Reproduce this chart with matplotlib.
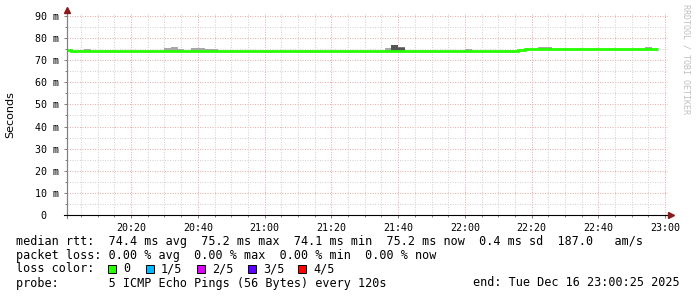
import matplotlib
matplotlib.use("Agg")
import matplotlib.pyplot as plt
import numpy as np
from matplotlib.patches import Rectangle
from matplotlib.lines import Line2D

W, H = 697, 297
nan = np.nan

# ---- data -------------------------------------------------------------
# time axis in minutes after 20:00 ; one sample every 2 minutes
sample_step_min = 2
median_ms = [
    74.8, 74.35, 74.35, 74.35, 74.35, 74.35, 74.35, 74.35, 74.35, 74.35,
    74.35, 74.35, 74.35, 74.35, 74.35, 74.35, 74.35, 74.35, 74.35, 74.35,
    74.35, 74.35, 74.35, 74.35, 74.35, 74.35, 74.35, 74.35, 74.35, 74.35,
    74.35, 74.35, 74.35, 74.35, 74.35, 74.1, 74.35, 74.35, 74.35, 74.35,
    74.35, 74.35, 74.35, 74.35, 74.35, 74.35, 74.35, 74.35, 74.35, 74.35,
    74.35, 74.35, 74.35, 74.35, 74.35, 74.35, 74.35, 74.1, 74.1, 74.35,
    74.35, 74.35, 74.35, 74.35, 74.35, 74.35, 74.35, 74.35, 74.7, 75.2,
    75.2, 75.2, 75.2, 75.2, 75.2, 75.2, 75.2, 75.2, 75.2, 75.2,
    75.2, 75.2, 75.2, 75.2, 75.2, 75.2, 75.2, 75.2, 75.2,
]
# smoke (spread of the individual pings) above the median
smoke_outer_bins = [3, 15, 16, 17, 19, 20, 21, 22, 48, 60, 71, 72, 87]
smoke_outer_top = [75.1, 75.5, 76.1, 75.1, 75.5, 75.5, 75.1, 75.1, 75.5, 75.1, 76.1, 76.1, 76.1]
smoke_inner_bins = [50]
smoke_inner_top = [76.1]
smoke_core_bins = [49, 50]
smoke_core_top = [76.9, 75.7]

x_range_min = (0.8, 180.85)
y_range_ms = (0, 90.9)
x_tick_min = [20, 40, 60, 80, 100, 120, 140, 160, 180]
x_tick_labels = ["20:20", "20:40", "21:00", "21:20", "21:40", "22:00", "22:20", "22:40", "23:00"]
y_tick_ms = [0, 10, 20, 30, 40, 50, 60, 70, 80, 90]
y_tick_labels = ["0  ", "10 m", "20 m", "30 m", "40 m", "50 m", "60 m", "70 m", "80 m", "90 m"]

legend_lines = [
    "median rtt:  74.4 ms avg  75.2 ms max  74.1 ms min  75.2 ms now  0.4 ms sd  187.0   am/s",
    "packet loss: 0.00 % avg  0.00 % max  0.00 % min  0.00 % now",
    "loss color:",
    "probe:       5 ICMP Echo Pings (56 Bytes) every 120s",
]
loss_labels = ["0", "1/5", "2/5", "3/5", "4/5"]
loss_colors = ["#26ff00", "#00b8ff", "#dd00ff", "#5e00ff", "#ff0000"]
end_text = "end: Tue Dec 16 23:00:25 2025"

# ---- figure -----------------------------------------------------------
def fx(px):
    return px / W

def fy(py):
    return 1 - py / H

fig = plt.figure(figsize=(W / 100, H / 100), dpi=100, facecolor="white")
left, right, top, bottom = 67, 668, 14, 215
ax = fig.add_axes([fx(left), fy(bottom), (right - left) / W, (bottom - top) / H])
ax.set_facecolor("white")
ax.set_xlim(*x_range_min)
ax.set_ylim(*y_range_ms)

mono = "DejaVu Sans Mono"

# grid
minor_c = "#d4d4d4"
major_c = "#e8b0b0"
dot = (0, (1, 1.4))
for v in np.arange(5, 91, 5):
    c = major_c if v % 10 == 0 else minor_c
    ax.axhline(v, color=c, lw=0.75, ls=dot, zorder=1)
for m in np.arange(5, 181, 5):
    c = major_c if m % 20 == 0 else minor_c
    ax.axvline(m, color=c, lw=0.75, ls=dot, zorder=1)

# smoke
med = np.array(median_ms)
def draw_smoke(bins, tops, color):
    b = np.array(bins)
    t = np.array(tops)
    ax.bar(b * sample_step_min, t - med[b], bottom=med[b], width=sample_step_min,
           align="edge", color=color, lw=0, zorder=2)

draw_smoke(smoke_outer_bins, smoke_outer_top, "#a8a8a8")
draw_smoke(smoke_inner_bins, smoke_inner_top, "#7a7a7a")
draw_smoke(smoke_core_bins, smoke_core_top, "#555555")

# median line
edges = np.arange(len(median_ms) + 1) * sample_step_min
ax.stairs(med, edges, baseline=None, color="#26ff00", lw=2.0, zorder=3)

# axes styling
for s in ["top", "right"]:
    ax.spines[s].set_visible(False)
ax.spines["left"].set_color("#808080")
ax.spines["bottom"].set_color("black")
ax.spines["left"].set_linewidth(0.8)
ax.spines["bottom"].set_linewidth(0.8)

ax.set_xticks(x_tick_min)
ax.set_xticklabels(x_tick_labels, fontfamily=mono, fontsize=7.2)
ax.set_xticks(np.arange(5, 181, 5), minor=True)
ax.set_yticks(y_tick_ms)
ax.set_yticklabels(y_tick_labels, fontfamily=mono, fontsize=7.2)
ax.set_yticks(np.arange(5, 91, 5), minor=True)
ax.tick_params(axis="both", which="major", length=2.5, width=0.7, color="#808080", pad=3.5)
ax.tick_params(axis="both", which="minor", length=1.5, width=0.7, color="#808080")
ax.tick_params(axis="x", which="major", pad=3)

ax.set_ylabel("Seconds", fontsize=8, family="DejaVu Sans", labelpad=14)

# axis extensions and arrows
fig.add_artist(Line2D([fx(left), fx(left)], [fy(bottom + 3), fy(10)], color="#808080", lw=0.8))
fig.add_artist(Line2D([fx(left - 3), fx(left)], [fy(bottom), fy(bottom)], color="black", lw=0.8))
fig.add_artist(Line2D([fx(right), fx(670)], [fy(bottom), fy(bottom)], color="black", lw=0.8))
fig.add_artist(Line2D([fx(left)], [fy(10)], marker="^", markersize=4, color="#8b1a1a", lw=0))
fig.add_artist(Line2D([fx(671)], [fy(bottom)], marker=">", markersize=4, color="#8b1a1a", lw=0))

# watermark
fig.text(fx(686), fy(4), "RRDTOOL / TOBI OETIKER", rotation=270, ha="center", va="top",
         fontsize=6.0, family=mono, color="#c0c0c0")

# legend text
line_y = [241.5, 255.5, 269, 283]
for txt, yy in zip(legend_lines, line_y):
    fig.text(fx(16), fy(yy), txt, family=mono, fontsize=8.5, va="center", ha="left")
fig.text(fx(680), fy(line_y[3]), end_text, family=mono, fontsize=8.5, va="center", ha="right")

sw_x = [108, 146, 197, 248, 298]
for i, (lab, col) in enumerate(zip(loss_labels, loss_colors)):
    x0 = sw_x[i]
    fig.add_artist(Rectangle((fx(x0), fy(273)), 8 / W, 8 / H, facecolor=col,
                             edgecolor="black", lw=0.7))
    fig.text(fx(x0 + 15), fy(line_y[2]), lab, family=mono, fontsize=8.5, va="center", ha="left")

fig.savefig("out.png", dpi=100, facecolor="white")
